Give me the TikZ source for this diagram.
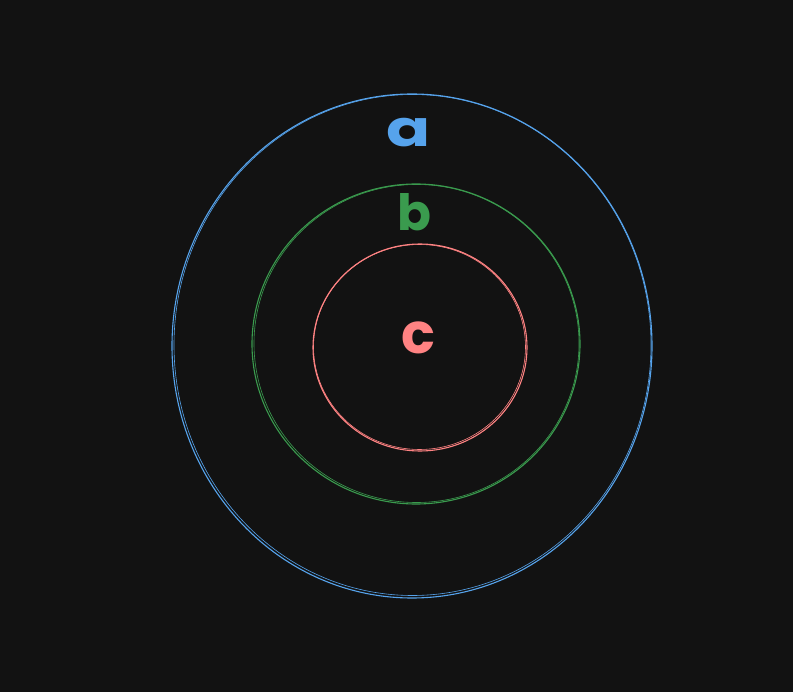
\documentclass[tikz,border=0pt]{standalone}
\usepackage{fontspec}
\setmainfont{Poppins}
\definecolor{bg}{HTML}{121212}
\definecolor{cblue}{HTML}{56A3EC}
\definecolor{cgreen}{HTML}{3A9B4E}
\definecolor{cred}{HTML}{FF8383}
\begin{document}
\begin{tikzpicture}[x=1pt,y=-1pt,
  ring/.style={line width=1.1pt},
  ringb/.style={line width=0.6pt},
  lbl/.style={anchor=base,inner sep=0pt,font=\fontsize{50}{50}\selectfont\bfseries}]
\fill[bg] (0,0) rectangle (793,692);
\useasboundingbox (0,0) rectangle (793,692);
% blue ring
\draw[ring,cblue] (412,346) ellipse [x radius=240, y radius=252];
\draw[ringb,cblue] (412.5,345) ellipse [x radius=238.5, y radius=250.5];
% green ring
\draw[ring,cgreen] (416,344) ellipse [x radius=164, y radius=160];
\draw[ringb,cgreen] (416.5,343.5) ellipse [x radius=162.5, y radius=159];
% red ring
\draw[ring,cred] (420,347.5) ellipse [x radius=107, y radius=103.5];
\draw[ringb,cred] (419.5,347) ellipse [x radius=106, y radius=102.5];
% labels
\node[lbl,text=cblue,xscale=1.3] (a) at (409,147) {a};
\node[lbl,text=cgreen] (b) at (414,231) {b};
\node[lbl,text=cred,font=\fontsize{56}{56}\selectfont\bfseries] (c) at (418,354) {c};
\end{tikzpicture}
\end{document}
